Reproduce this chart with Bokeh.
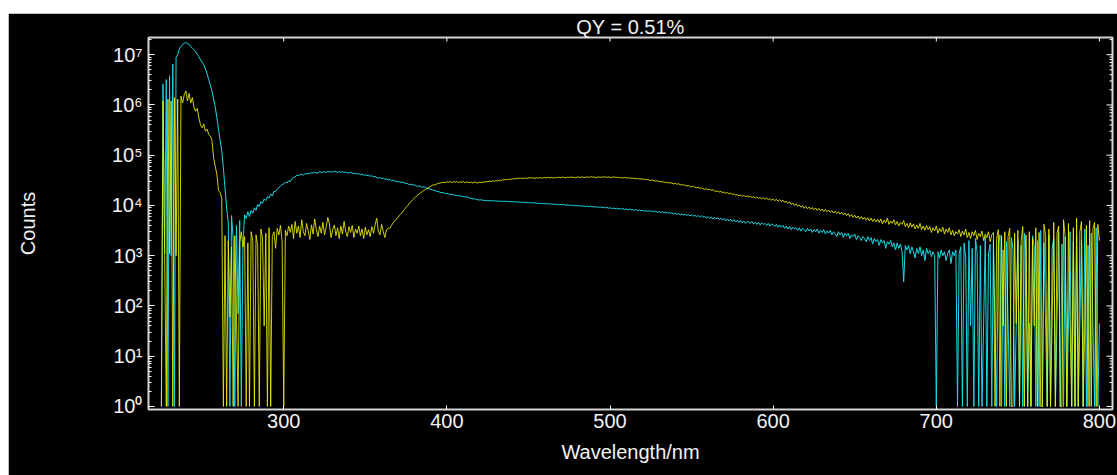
import math
from bokeh.plotting import figure
from bokeh.models import Range1d, FixedTicker, Spacer, ColumnDataSource
from bokeh.layouts import column, row
from bokeh.embed import file_html
from bokeh.resources import INLINE

# ---- data ----
wavelength_nm = list(range(225, 801))

blank_counts = [
    1, 2.6e6, 1.1e3, 3.2e6, 1, 3.8e6, 1.0e3, 6.5e6, 1, 8.9e6,
    1.0e7, 1.3e7, 1.45e7, 1.6e7, 1.7e7, 1.75e7, 1.65e7, 1.6e7, 1.45e7, 1.35e7,
    1.26e7, 1.15e7, 1.02e7, 9.1e6, 7.9e6, 7.1e6, 6.3e6, 5.2e6, 4.2e6, 3.2e6,
    2.5e6, 1.9e6, 1.3e6, 9.1e5, 5.6e5, 3.3e5, 2.0e5, 1.2e5, 5.6e4, 2.2e4,
    8.9e3, 4.5e3, 1, 6.3e3, 2.2e3, 1, 4.0e3, 70, 5.0e3, 1,
    1.7e3, 6.5e3, 5.5e3, 7.5e3, 6.0e3, 8.0e3, 7.0e3, 9.0e3, 8.0e3, 1.05e4,
    9.5e3, 1.2e4, 1.1e4, 1.35e4, 1.25e4, 1.5e4, 1.4e4, 1.7e4, 1.55e4, 1.9e4,
    1.9e4, 2.1e4, 2.3e4, 2.4e4, 2.6e4, 2.7e4, 2.9e4, 2.8e4, 3.1e4, 3.0e4,
    3.4e4, 3.6e4, 3.7e4, 4.0e4, 3.9e4, 4.1e4, 4.2e4, 4.0e4, 4.3e4, 4.2e4,
    4.4e4, 4.3e4, 4.5e4, 4.4e4, 4.6e4, 4.4e4, 4.5e4, 4.7e4, 4.5e4, 4.6e4,
    4.7e4, 4.5e4, 4.8e4, 4.6e4, 4.7e4, 4.6e4, 4.8e4, 4.7e4, 4.5e4, 4.7e4,
    4.6e4, 4.7e4, 4.5e4, 4.6e4, 4.5e4, 4.4e4, 4.6e4, 4.4e4, 4.3e4, 4.4e4,
    4.2e4, 4.3e4, 4.1e4, 4.2e4, 4.0e4, 4.1e4, 3.9e4, 4.0e4, 3.8e4, 3.9e4,
    3.7e4, 3.8e4, 3.6e4, 3.5e4, 3.6e4, 3.4e4, 3.5e4, 3.3e4, 3.4e4, 3.2e4,
    3.3e4, 3.1e4, 3.2e4, 3.0e4, 3.05e4, 2.95e4, 3.0e4, 2.85e4, 2.9e4, 2.8e4,
    2.75e4, 2.7e4, 2.6e4, 2.65e4, 2.55e4, 2.6e4, 2.45e4, 2.4e4, 2.45e4, 2.35e4,
    2.3e4, 2.35e4, 2.25e4, 2.2e4, 2.15e4, 2.1e4, 2.05e4, 2.0e4, 1.95e4, 1.9e4,
    1.88e4, 1.82e4, 1.8e4, 1.78e4, 1.72e4, 1.75e4, 1.7e4, 1.65e4, 1.68e4, 1.62e4,
    1.6e4, 1.58e4, 1.55e4, 1.57e4, 1.52e4, 1.5e4, 1.48e4, 1.5e4, 1.45e4, 1.4e4,
    1.38e4, 1.35e4, 1.36e4, 1.32e4, 1.3e4, 1.28e4, 1.3e4, 1.27e4, 1.25e4, 1.27e4,
    1.24e4, 1.26e4, 1.23e4, 1.25e4, 1.22e4, 1.24e4, 1.21e4, 1.23e4, 1.2e4, 1.22e4,
    1.2e4, 1.22e4, 1.19e4, 1.21e4, 1.18e4, 1.2e4, 1.17e4, 1.19e4, 1.16e4, 1.18e4,
    1.15e4, 1.17e4, 1.14e4, 1.16e4, 1.13e4, 1.15e4, 1.12e4, 1.14e4, 1.11e4, 1.13e4,
    1.1e4, 1.12e4, 1.09e4, 1.11e4, 1.08e4, 1.1e4, 1.07e4, 1.09e4, 1.06e4, 1.08e4,
    1.05e4, 1.07e4, 1.04e4, 1.06e4, 1.03e4, 1.05e4, 1.02e4, 1.05e4, 1.01e4, 1.03e4,
    1.0e4, 1.03e4, 9.9e3, 1.02e4, 9.8e3, 1.0e4, 9.7e3, 9.9e3, 9.6e3, 9.8e3,
    9.5e3, 9.8e3, 9.4e3, 9.7e3, 9.3e3, 9.6e3, 9.2e3, 9.5e3, 9.1e3, 9.4e3,
    9.0e3, 9.3e3, 8.9e3, 9.2e3, 8.8e3, 9.0e3, 8.7e3, 8.9e3, 8.6e3, 8.8e3,
    8.5e3, 8.7e3, 8.4e3, 8.7e3, 8.3e3, 8.5e3, 8.2e3, 8.5e3, 8.1e3, 8.3e3,
    8.0e3, 8.3e3, 7.9e3, 8.2e3, 7.8e3, 8.0e3, 7.7e3, 8.0e3, 7.6e3, 7.9e3,
    7.5e3, 7.8e3, 7.4e3, 7.7e3, 7.3e3, 7.6e3, 7.2e3, 7.5e3, 7.1e3, 7.4e3,
    7.0e3, 7.3e3, 6.9e3, 7.2e3, 6.8e3, 7.0e3, 6.6e3, 6.9e3, 6.5e3, 6.8e3,
    6.4e3, 6.7e3, 6.3e3, 6.6e3, 6.2e3, 6.5e3, 6.1e3, 6.4e3, 6.0e3, 6.3e3,
    5.9e3, 6.3e3, 5.8e3, 6.1e3, 5.6e3, 6.0e3, 5.5e3, 5.9e3, 5.4e3, 5.8e3,
    5.4e3, 5.7e3, 5.2e3, 5.6e3, 5.1e3, 5.5e3, 5.0e3, 5.4e3, 4.9e3, 5.3e3,
    4.8e3, 5.2e3, 4.7e3, 5.1e3, 4.6e3, 5.0e3, 4.5e3, 4.9e3, 4.4e3, 4.8e3,
    4.7e3, 4.4e3, 4.8e3, 4.3e3, 4.6e3, 4.2e3, 4.6e3, 4.1e3, 4.5e3, 4.2e3,
    4.4e3, 4.0e3, 4.4e3, 3.9e3, 4.3e3, 4.1e3, 3.8e3, 4.2e3, 3.7e3, 4.1e3,
    3.7e3, 4.0e3, 3.5e3, 3.9e3, 3.4e3, 3.8e3, 3.3e3, 3.7e3, 3.4e3, 3.6e3,
    3.2e3, 3.6e3, 3.1e3, 3.5e3, 3.3e3, 3.0e3, 3.5e3, 3.1e3, 3.4e3, 2.9e3,
    3.3e3, 3.0e3, 3.4e3, 2.8e3, 3.2e3, 2.9e3, 3.3e3, 2.7e3, 3.1e3, 2.8e3,
    3.2e3, 2.6e3, 3.0e3, 2.7e3, 2.4e3, 3.0e3, 2.6e3, 2.9e3, 2.3e3, 2.8e3,
    2.5e3, 2.8e3, 2.2e3, 2.6e3, 2.4e3, 2.7e3, 2.1e3, 2.5e3, 2.3e3, 2.0e3,
    2.4e3, 2.2e3, 1.9e3, 2.4e3, 2.0e3, 2.3e3, 1.7e3, 2.2e3, 1.9e3, 2.1e3,
    1.6e3, 2.1e3, 1.8e3, 2.0e3, 1.4e3, 1.9e3, 1.7e3, 2.0e3, 1.5e3, 1.8e3,
    1.3e3, 1.8e3, 1.4e3, 1.7e3, 1.2e3, 300, 1.6e3, 1.3e3, 1.6e3, 1.1e3,
    1.5e3, 1.2e3, 900, 1.4e3, 1.1e3, 1.5e3, 1.0e3, 1.3e3, 800, 1.4e3,
    1.1e3, 1.3e3, 950, 1.2e3, 1.0e3, 1, 1.2e3, 900, 1.3e3, 1.0e3,
    1.2e3, 800, 1.1e3, 1.3e3, 700, 1.2e3, 1.0e3, 1.3e3, 1, 1.1e3,
    1.5e3, 1, 1.8e3, 900, 1, 2.0e3, 40, 1.4e3, 1, 2.2e3,
    1.2e3, 1, 1.6e3, 1, 45, 2.4e3, 1, 1.1e3, 1.7e3, 1,
    2.0e3, 35, 1, 1.5e3, 2.6e3, 1, 1.3e3, 1, 1.9e3, 50,
    1, 2.3e3, 1.4e3, 1, 40, 2.1e3, 1, 1.6e3, 1, 2.8e3,
    1.2e3, 1, 45, 1, 2.5e3, 1.5e3, 1, 2.0e3, 1, 3.2e3,
    1, 1.8e3, 40, 1, 2.6e3, 1, 1.4e3, 2.2e3, 1, 50,
    2.9e3, 1, 1.7e3, 1, 2.4e3, 1, 40, 3.0e3, 1, 1.9e3,
    1, 2.6e3, 1, 45, 2.1e3, 1, 3.4e3, 1, 1.6e3, 1,
    2.8e3, 40, 1, 3.6e3, 1, 45,
]

sample_counts = [
    1, 1.2e6, 1.0e3, 1, 1.3e6, 1.1e3, 1.2e6, 1, 1.4e6, 1.0e3,
    1.3e6, 1, 1.5e6, 1.1e6, 1.6e6, 1.9e6, 1.2e6, 1.7e6, 1.1e6, 1.4e6,
    9.0e5, 7.5e5, 8.5e5, 5.5e5, 4.0e5, 3.5e5, 4.2e5, 3.0e5, 3.3e5, 2.6e5,
    2.4e5, 2.0e5, 9.0e4, 6.0e4, 4.2e4, 2.0e4, 1.8e4, 1.4e4, 1, 2.5e3,
    1, 2.0e3, 60, 1.5e3, 1, 2.5e3, 70, 1, 1.8e3, 3.0e3,
    1.5e3, 2.4e3, 1, 1.8e3, 1, 3.0e3, 2.0e3, 1, 2.6e3, 1.6e3,
    1, 3.4e3, 2.2e3, 40, 2.8e3, 1, 3.6e3, 1, 2.4e3, 3.0e3,
    1.4e3, 3.5e3, 2.6e3, 4.0e3, 1.9e3, 1, 3.2e3, 2.5e3, 3.9e3, 2.9e3,
    4.2e3, 2.2e3, 4.8e3, 2.8e3, 3.9e3, 2.3e3, 5.2e3, 3.0e3, 2.5e3, 4.4e3,
    3.1e3, 2.1e3, 4.1e3, 2.7e3, 5.4e3, 3.3e3, 2.4e3, 3.9e3, 2.8e3, 4.6e3,
    2.6e3, 3.7e3, 5.8e3, 4.3e3, 2.3e3, 3.3e3, 4.1e3, 2.5e3, 3.6e3, 2.2e3,
    3.9e3, 2.7e3, 4.8e3, 3.0e3, 2.4e3, 3.8e3, 2.9e3, 4.0e3, 2.3e3, 3.4e3,
    2.8e3, 3.9e3, 2.5e3, 3.4e3, 2.2e3, 3.7e3, 2.6e3, 3.3e3, 2.4e3, 3.8e3,
    2.8e3, 4.1e3, 5.6e3, 3.1e3, 2.6e3, 4.2e3, 3.0e3, 2.3e3, 3.3e3, 3.5e3,
    3.5e3, 4.0e3, 4.5e3, 4.9e3, 5.3e3, 5.8e3, 6.4e3, 6.9e3, 7.6e3, 8.3e3,
    9.2e3, 1.0e4, 1.1e4, 1.2e4, 1.3e4, 1.4e4, 1.5e4, 1.6e4, 1.7e4, 1.8e4,
    1.9e4, 2.0e4, 2.1e4, 2.2e4, 2.3e4, 2.4e4, 2.5e4, 2.6e4, 2.55e4, 2.7e4,
    2.75e4, 2.8e4, 2.85e4, 2.9e4, 2.85e4, 2.95e4, 2.9e4, 3.0e4, 2.85e4, 2.95e4,
    2.9e4, 3.0e4, 2.85e4, 2.95e4, 2.9e4, 3.0e4, 2.8e4, 2.95e4, 2.9e4, 2.85e4,
    2.9e4, 2.8e4, 2.95e4, 2.85e4, 2.8e4, 2.9e4, 2.85e4, 2.95e4, 2.9e4, 3.0e4,
    2.95e4, 3.05e4, 3.0e4, 3.1e4, 3.0e4, 3.15e4, 3.05e4, 3.2e4, 3.1e4, 3.25e4,
    3.2e4, 3.3e4, 3.25e4, 3.35e4, 3.3e4, 3.4e4, 3.35e4, 3.45e4, 3.4e4, 3.5e4,
    3.45e4, 3.5e4, 3.4e4, 3.55e4, 3.45e4, 3.5e4, 3.6e4, 3.5e4, 3.55e4, 3.45e4,
    3.55e4, 3.5e4, 3.6e4, 3.5e4, 3.55e4, 3.6e4, 3.5e4, 3.65e4, 3.55e4, 3.6e4,
    3.5e4, 3.6e4, 3.55e4, 3.65e4, 3.6e4, 3.55e4, 3.7e4, 3.6e4, 3.55e4, 3.65e4,
    3.6e4, 3.7e4, 3.6e4, 3.65e4, 3.55e4, 3.7e4, 3.6e4, 3.65e4, 3.7e4, 3.6e4,
    3.65e4, 3.7e4, 3.6e4, 3.75e4, 3.65e4, 3.7e4, 3.6e4, 3.65e4, 3.7e4, 3.6e4,
    3.7e4, 3.65e4, 3.75e4, 3.6e4, 3.7e4, 3.65e4, 3.6e4, 3.7e4, 3.65e4, 3.6e4,
    3.65e4, 3.55e4, 3.6e4, 3.5e4, 3.6e4, 3.55e4, 3.5e4, 3.55e4, 3.45e4, 3.5e4,
    3.45e4, 3.4e4, 3.45e4, 3.35e4, 3.4e4, 3.3e4, 3.35e4, 3.25e4, 3.3e4, 3.2e4,
    3.15e4, 3.2e4, 3.1e4, 3.05e4, 3.1e4, 3.0e4, 2.95e4, 3.0e4, 2.9e4, 2.85e4,
    2.9e4, 2.8e4, 2.85e4, 2.75e4, 2.7e4, 2.75e4, 2.65e4, 2.7e4, 2.6e4, 2.55e4,
    2.6e4, 2.5e4, 2.45e4, 2.5e4, 2.4e4, 2.35e4, 2.4e4, 2.3e4, 2.25e4, 2.3e4,
    2.2e4, 2.25e4, 2.15e4, 2.1e4, 2.15e4, 2.05e4, 2.1e4, 2.0e4, 2.05e4, 1.95e4,
    1.9e4, 1.95e4, 1.85e4, 1.9e4, 1.8e4, 1.85e4, 1.75e4, 1.8e4, 1.7e4, 1.75e4,
    1.65e4, 1.7e4, 1.6e4, 1.65e4, 1.55e4, 1.62e4, 1.52e4, 1.58e4, 1.5e4, 1.55e4,
    1.48e4, 1.52e4, 1.44e4, 1.5e4, 1.4e4, 1.47e4, 1.38e4, 1.45e4, 1.35e4, 1.42e4,
    1.33e4, 1.4e4, 1.3e4, 1.37e4, 1.28e4, 1.34e4, 1.25e4, 1.32e4, 1.22e4, 1.3e4,
    1.2e4, 1.27e4, 1.15e4, 1.22e4, 1.1e4, 1.18e4, 1.05e4, 1.12e4, 1.0e4, 1.08e4,
    9.6e3, 1.03e4, 9.2e3, 9.9e3, 8.8e3, 9.6e3, 8.6e3, 9.3e3, 8.4e3, 9.1e3,
    8.2e3, 8.9e3, 8.0e3, 8.7e3, 7.8e3, 8.5e3, 7.6e3, 8.3e3, 7.5e3, 8.1e3,
    7.3e3, 7.9e3, 7.1e3, 7.7e3, 6.9e3, 7.5e3, 6.7e3, 7.3e3, 6.5e3, 7.1e3,
    6.3e3, 6.9e3, 6.0e3, 6.6e3, 5.8e3, 6.4e3, 5.6e3, 6.2e3, 5.4e3, 6.0e3,
    5.3e3, 5.8e3, 5.1e3, 5.7e3, 4.9e3, 5.6e3, 4.8e3, 5.4e3, 4.7e3, 5.3e3,
    4.6e3, 5.4e3, 4.3e3, 5.1e3, 4.5e3, 5.6e3, 4.2e3, 4.9e3, 4.4e3, 5.2e3,
    4.1e3, 4.8e3, 3.9e3, 4.6e3, 4.2e3, 5.0e3, 3.8e3, 4.4e3, 3.6e3, 4.5e3,
    3.7e3, 4.3e3, 3.4e3, 4.1e3, 3.5e3, 4.4e3, 3.3e3, 3.9e3, 3.2e3, 4.0e3,
    3.3e3, 3.8e3, 2.9e3, 3.6e3, 3.1e3, 3.9e3, 2.8e3, 3.5e3, 3.0e3, 3.7e3,
    2.7e3, 3.4e3, 2.9e3, 3.6e3, 2.6e3, 3.2e3, 2.5e3, 3.0e3, 2.7e3, 3.3e3,
    2.4e3, 3.1e3, 2.6e3, 3.4e3, 2.3e3, 2.9e3, 2.2e3, 3.0e3, 2.5e3, 3.2e3,
    2.1e3, 2.8e3, 2.4e3, 3.1e3, 2.0e3, 2.7e3, 2.3e3, 3.0e3, 1.9e3, 2.6e3,
    2.9e3, 1, 2.2e3, 3.3e3, 1, 2.5e3, 40, 3.0e3, 1, 2.4e3,
    3.5e3, 1, 1, 2.8e3, 45, 3.2e3, 1, 2.0e3, 3.8e3, 1,
    2.6e3, 1, 3.0e3, 1, 2.2e3, 40, 3.6e3, 1, 2.9e3, 1,
    1, 4.2e3, 2.5e3, 1, 3.4e3, 1, 50, 4.6e3, 1, 2.8e3,
    3.9e3, 1, 1, 5.2e3, 2.4e3, 1, 4.4e3, 45, 1, 3.6e3,
    1, 5.6e3, 1, 3.0e3, 4.8e3, 1, 40, 4.0e3, 1, 5.0e3,
    1, 3.4e3, 4.6e3, 1, 4.2e3, 2.0e3,
]

x_tick_values = [300, 400, 500, 600, 700, 800]
y_tick_values = [1, 10, 100, 1000, 10000, 100000, 1000000, 10000000]
y_tick_texts = ["10⁰", "10¹", "10²", "10³", "10⁴", "10⁵", "10⁶", "10⁷"]

title_text = "QY = 0.51%"
x_label = "Wavelength/nm"
y_label = "Counts"

# ---- figure ----
FONT = "Liberation Sans"
TXT = "#f2f2f2"
X0, X1 = 217.1, 808.0
Y0, Y1 = 0.87, 2.2e7

src = ColumnDataSource(dict(x=wavelength_nm, blank=blank_counts, sample=sample_counts))

p = figure(width=1109, height=462, output_backend="svg", toolbar_location=None,
           x_range=Range1d(X0, X1), y_range=Range1d(Y0, Y1),
           y_axis_type="log",
           background_fill_color="black", border_fill_color="black",
           min_border_left=140, min_border_right=5, min_border_top=23, min_border_bottom=66)

p.grid.visible = False
p.outline_line_color = "#d4d4d4"
p.outline_line_width = 2

p.title.text = title_text
p.title.align = "center"
p.title.text_color = TXT
p.title.text_font = FONT
p.title.text_font_size = "20px"
p.title.text_font_style = "normal"
p.title.standoff = 0
p.title.offset = 0

y_minor = [m * 10 ** d for d in range(0, 8) for m in range(2, 10)]

for ax in (p.xaxis[0], p.yaxis[0]):
    ax.axis_line_color = None
    ax.major_tick_line_color = "white"
    ax.minor_tick_line_color = "white"
    ax.major_tick_out = 0
    ax.minor_tick_out = 0
    ax.major_label_text_color = TXT
    ax.major_label_text_font = FONT
    ax.major_label_text_font_size = "20px"
    ax.axis_label_text_color = TXT
    ax.axis_label_text_font = FONT
    ax.axis_label_text_font_size = "20px"
    ax.axis_label_text_font_style = "normal"

xa = p.xaxis[0]
xa.ticker = FixedTicker(ticks=x_tick_values, minor_ticks=[])
xa.major_tick_in = 4
xa.major_label_standoff = 4
xa.axis_label = x_label
xa.axis_label_standoff = 10

ya = p.yaxis[0]
ya.ticker = FixedTicker(ticks=y_tick_values, minor_ticks=y_minor)
ya.major_label_overrides = dict(zip(y_tick_values, y_tick_texts))
ya.major_tick_in = 6
ya.minor_tick_in = 3
ya.major_label_standoff = 6
ya.axis_label = y_label
ya.axis_label_standoff = 70

# mirrored inward ticks on the top and right frame edges
p.ray(x=x_tick_values, y=[Y1] * len(x_tick_values), length=4, length_units="screen",
      angle=-math.pi / 2, line_color="white", line_width=1)
p.ray(x=[X1] * len(y_tick_values), y=y_tick_values, length=6, length_units="screen",
      angle=math.pi, line_color="white", line_width=1)
p.ray(x=[X1] * len(y_minor), y=y_minor, length=3, length_units="screen",
      angle=math.pi, line_color="white", line_width=1)

p.line("x", "blank", source=src, line_color="#1cd8e6", line_width=1)
p.line("x", "sample", source=src, line_color="#f0f000", line_width=1, line_alpha=0.85)

layout = column(Spacer(width=1117, height=13), row(Spacer(width=8, height=462), p))
open("out.html", "w").write(file_html(layout, INLINE))
